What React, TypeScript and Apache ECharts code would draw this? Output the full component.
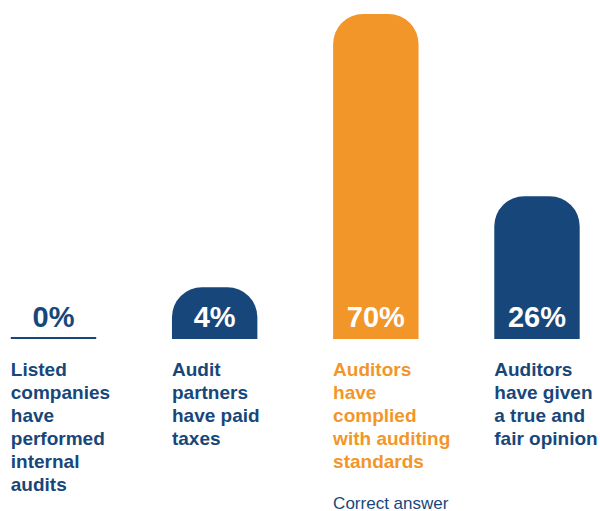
import React, { useEffect, useRef } from "react";
import * as echarts from "echarts";

const categories = [
  "Listed\ncompanies\nhave\nperformed\ninternal\naudits",
  "Audit\npartners\nhave paid\ntaxes",
  "Auditors\nhave\ncomplied\nwith auditing\nstandards",
  "Auditors\nhave given\na true and\nfair opinion",
];
const values = [0, 4, 70, 26];
const valueLabels = ["0%", "4%", "70%", "26%"];
const correctIndex = 2;
const correctNote = "Correct answer";

const NAVY = "#17477A";
const ORANGE = "#F39629";
const FONT = "'Liberation Sans', Arial, Helvetica, sans-serif";
const Y_MIN = -8.5;
const Y_MAX = 73.4;

export default function App() {
  const ref = useRef<HTMLDivElement>(null);
  useEffect(() => {
    if (!ref.current) return;
    const chart = echarts.init(ref.current, undefined, { renderer: "svg" });
    const data = values.map((v, i) => [i, v]);
    chart.setOption({
      animation: false,
      backgroundColor: "#ffffff",
      grid: { left: 0, right: 0, top: 0, bottom: 172 },
      xAxis: { type: "value", min: -0.332, max: 3.391, show: false },
      yAxis: { type: "value", min: Y_MIN, max: Y_MAX, show: false },
      series: [
        {
          type: "custom",
          data,
          clip: false,
          renderItem: (params: any, api: any) => {
            const i = api.value(0);
            const v = api.value(1);
            const [cx, top] = api.coord([i, v]);
            const base = api.coord([i, Y_MIN])[1];
            const unit = api.coord([1, 0])[0] - api.coord([0, 0])[0];
            const w = unit * 0.53;
            const left = cx - w / 2;
            const color = i === correctIndex ? ORANGE : NAVY;
            const children: any[] = [];
            if (v > 0) {
              children.push({
                type: "rect",
                shape: { x: left, y: top, width: w, height: base - top, r: [30, 30, 0, 0] },
                style: { fill: color },
              });
            } else {
              children.push({
                type: "rect",
                shape: { x: left, y: base - 2, width: w, height: 2 },
                style: { fill: color },
              });
            }
            children.push({
              type: "text",
              x: cx,
              y: base - 22,
              style: {
                text: valueLabels[i],
                fill: v > 0 ? "#ffffff" : color,
                font: `bold 29px ${FONT}`,
                align: "center",
                verticalAlign: "middle",
                textAlign: "center",
                textVerticalAlign: "middle",
              },
            });
            children.push({
              type: "text",
              x: left,
              y: base + 19,
              style: {
                text: categories[i],
                fill: color,
                font: `bold 19px ${FONT}`,
                lineHeight: 23,
                align: "left",
                verticalAlign: "top",
                textAlign: "left",
                textVerticalAlign: "top",
              },
            });
            if (i === correctIndex) {
              children.push({
                type: "text",
                x: left,
                y: base + 164,
                style: {
                  text: correctNote,
                  fill: NAVY,
                  font: `17px ${FONT}`,
                  align: "left",
                  verticalAlign: "middle",
                  textAlign: "left",
                  textVerticalAlign: "middle",
                },
              });
            }
            return { type: "group", children };
          },
        },
      ],
    });
    return () => chart.dispose();
  }, []);
  return (
    <div
      ref={ref}
      style={{ position: "absolute", left: 0, top: 0, width: 600, height: 511 }}
    />
  );
}
